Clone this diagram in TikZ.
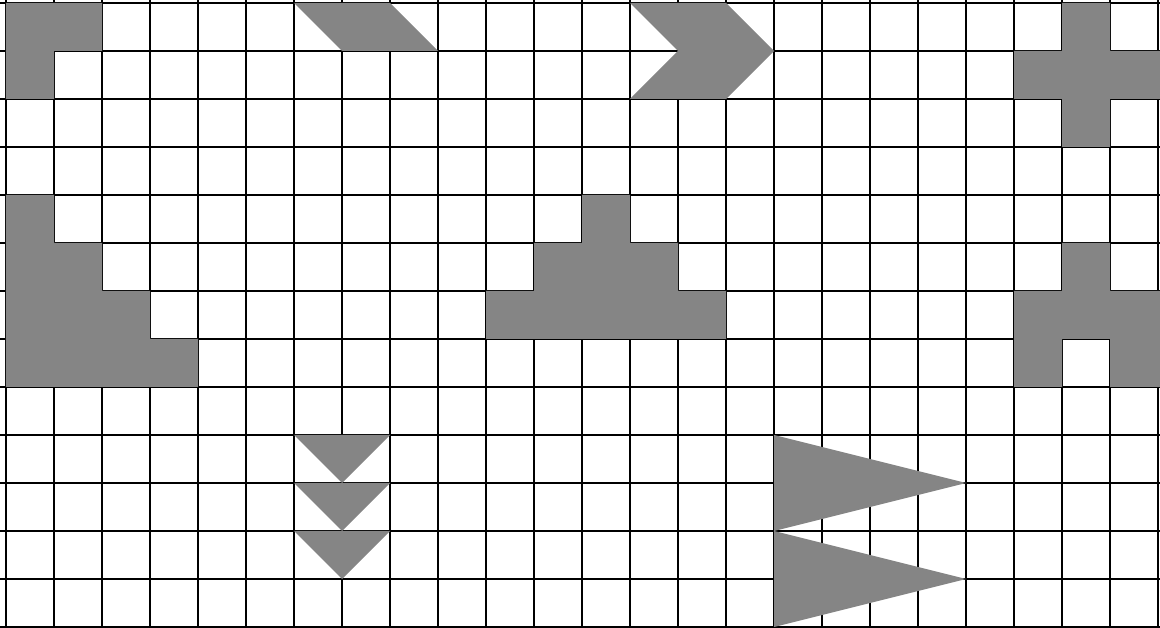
\documentclass[tikz,border=0pt]{standalone}
\usepackage{tikz}
\usepackage{xcolor}
\definecolor{tilegray}{HTML}{858585}
\tikzstyle{gridline} = [black, line width=0.9pt]
\tikzstyle{piece} = [fill=tilegray, draw=none]

\begin{document}
\begin{tikzpicture}[x=1cm, y=-1cm]
    % Frame
    \useasboundingbox (-0.125,-0.0625) rectangle (24.0417,13.0208);
    \clip (-0.125,-0.0625) rectangle (24.0417,13.0208);
    \fill[white] (-0.125,-0.0625) rectangle (24.0417,13.0208);

    % Grid
    \draw[gridline] (-1,-1) grid (25,14);

    % Top row
    \fill[piece] (0,0) -- (2,0) -- (2,1) -- (1,1) -- (1,2) -- (0,2) -- cycle;
    \fill[piece] (6,0) -- (8,0) -- (9,1) -- (7,1) -- cycle;
    \fill[piece] (13,0) -- (15,0) -- (16,1) -- (15,2) -- (13,2) -- (14,1) -- cycle;
    \fill[piece] (22,0) -- (23,0) -- (23,1) -- (25,1) -- (25,2) -- (23,2)
        -- (23,3) -- (22,3) -- (22,2) -- (21,2) -- (21,1) -- (22,1) -- cycle;

    % Middle row
    \fill[piece] (0,4) -- (1,4) -- (1,5) -- (2,5) -- (2,6) -- (3,6) -- (3,7)
        -- (4,7) -- (4,8) -- (0,8) -- cycle;
    \fill[piece] (10,7) -- (10,6) -- (11,6) -- (11,5) -- (12,5) -- (12,4)
        -- (13,4) -- (13,5) -- (14,5) -- (14,6) -- (15,6) -- (15,7) -- cycle;
    \fill[piece] (22,5) -- (23,5) -- (23,6) -- (25,6) -- (25,8) -- (23,8)
        -- (23,7) -- (22,7) -- (22,8) -- (21,8) -- (21,6) -- (22,6) -- cycle;

    % Bottom row
    \fill[piece] (6,9) -- (8,9) -- (7,10) -- cycle;
    \fill[piece] (6,10) -- (8,10) -- (7,11) -- cycle;
    \fill[piece] (6,11) -- (8,11) -- (7,12) -- cycle;
    \fill[piece] (16,9) -- (20,10) -- (16,11) -- cycle;
    \fill[piece] (16,11) -- (20,12) -- (16,13) -- cycle;
\end{tikzpicture}
\end{document}
